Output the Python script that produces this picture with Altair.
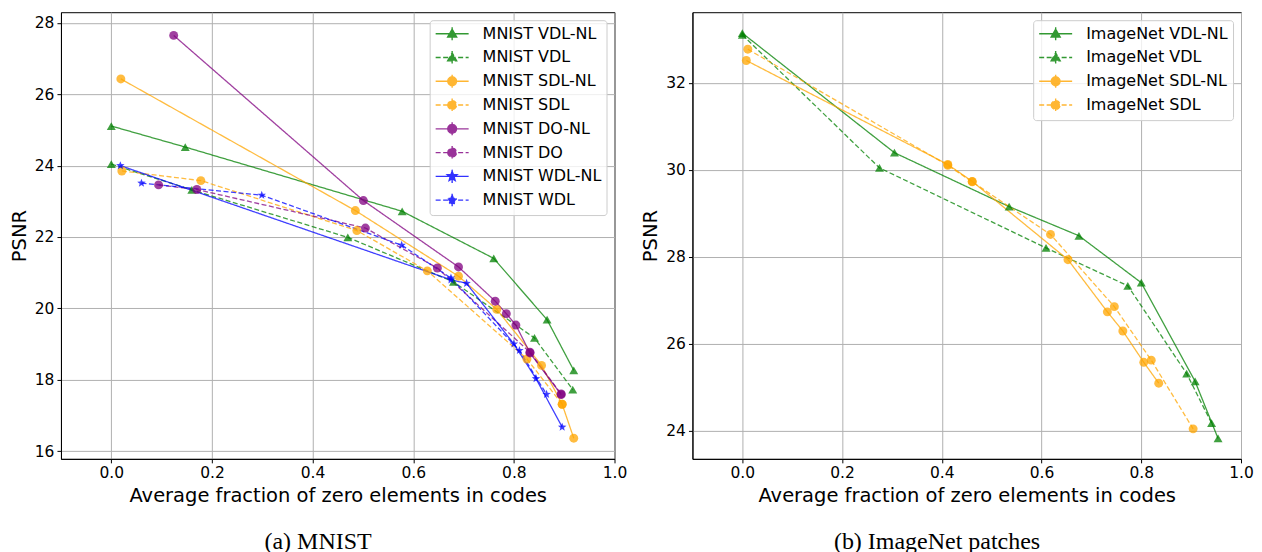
import altair as alt
import pandas as pd

# ---------------- MNIST panel data ----------------
mnist_series = ["MNIST VDL-NL", "MNIST VDL", "MNIST SDL-NL", "MNIST SDL",
                "MNIST DO-NL", "MNIST DO", "MNIST WDL-NL", "MNIST WDL"]
mnist_colors = ["green", "green", "orange", "orange", "purple", "purple", "blue", "blue"]

mnist_vdl_nl_x = [0.0, 0.147, 0.578, 0.760, 0.866, 0.919]
mnist_vdl_nl_y = [25.11, 24.52, 22.72, 21.40, 19.68, 18.26]
mnist_vdl_x = [0.0, 0.160, 0.470, 0.680, 0.841, 0.917]
mnist_vdl_y = [24.04, 23.32, 21.99, 20.74, 19.17, 17.72]
mnist_sdl_nl_x = [0.019, 0.485, 0.690, 0.766, 0.855, 0.896, 0.919]
mnist_sdl_nl_y = [26.43, 22.74, 20.90, 19.97, 18.40, 17.31, 16.36]
mnist_sdl_x = [0.021, 0.178, 0.488, 0.628, 0.826, 0.896]
mnist_sdl_y = [23.85, 23.58, 22.18, 21.05, 18.58, 17.31]
mnist_do_nl_x = [0.124, 0.501, 0.690, 0.763, 0.785, 0.804, 0.832, 0.894]
mnist_do_nl_y = [27.65, 23.02, 21.16, 20.20, 19.85, 19.53, 18.75, 17.58]
mnist_do_x = [0.094, 0.170, 0.505, 0.648, 0.832, 0.894]
mnist_do_y = [23.46, 23.33, 22.25, 21.13, 18.77, 17.60]
mnist_wdl_nl_x = [0.018, 0.675, 0.706, 0.800, 0.844, 0.896]
mnist_wdl_nl_y = [24.00, 20.80, 20.70, 19.00, 18.03, 16.67]
mnist_wdl_x = [0.060, 0.299, 0.577, 0.675, 0.811, 0.865]
mnist_wdl_y = [23.51, 23.17, 21.77, 20.85, 18.82, 17.59]

# ---------------- ImageNet panel data ----------------
inet_series = ["ImageNet VDL-NL", "ImageNet VDL", "ImageNet SDL-NL", "ImageNet SDL"]
inet_colors = ["green", "green", "orange", "orange"]

inet_vdl_nl_x = [0.0, 0.305, 0.535, 0.675, 0.800, 0.908, 0.954]
inet_vdl_nl_y = [33.14, 30.39, 29.15, 28.48, 27.40, 25.13, 23.82]
inet_vdl_x = [0.0, 0.275, 0.609, 0.773, 0.891, 0.941]
inet_vdl_y = [33.10, 30.04, 28.20, 27.33, 25.31, 24.17]
inet_sdl_nl_x = [0.008, 0.412, 0.461, 0.653, 0.732, 0.763, 0.805, 0.835]
inet_sdl_nl_y = [32.51, 30.12, 29.73, 27.93, 26.73, 26.29, 25.57, 25.09]
inet_sdl_x = [0.011, 0.412, 0.461, 0.618, 0.746, 0.820, 0.904]
inet_sdl_y = [32.77, 30.10, 29.72, 28.51, 26.85, 25.62, 24.04]

x_ticks = [0.0, 0.2, 0.4, 0.6, 0.8, 1.0]
mnist_y_ticks = [16, 18, 20, 22, 24, 26, 28]
inet_y_ticks = [24, 26, 28, 30, 32]

STAR = ("M0,-1L0.247,-0.34L0.951,-0.309L0.399,0.13L0.588,0.809L0,0.42"
        "L-0.588,0.809L-0.399,0.13L-0.951,-0.309L-0.247,-0.34Z")
# legend symbols: unit r = 7.5px (symbolSize 225); line spans 33px
LEG_LINE = "M-2.2,0L2.2,0M0,-0.87L0,0.87"
LEG_TRI = LEG_LINE + "M-0.6,0.45L0,-0.6L0.6,0.45Z"
LEG_CIRC = LEG_LINE + "M-0.58,0A0.58,0.58 0 1,0 0.58,0A0.58,0.58 0 1,0 -0.58,0Z"
LEG_STAR = LEG_LINE + ("M0,-0.68L0.168,-0.231L0.647,-0.21L0.271,0.088L0.4,0.55L0,0.286"
                       "L-0.4,0.55L-0.271,0.088L-0.647,-0.21L-0.168,-0.231Z")


def marker_of(name):
    if "VDL" in name:
        return "triangle-up", LEG_TRI
    if "WDL" in name:
        return STAR, LEG_STAR
    return "circle", LEG_CIRC


def build_df(series, xs_list, ys_list):
    rows = []
    for s, xs, ys in zip(series, xs_list, ys_list):
        for i, (x, y) in enumerate(zip(xs, ys)):
            rows.append({"series": s, "mk": s, "x": x, "y": y, "i": i})
    return pd.DataFrame(rows)


def panel(series, colors, xs_list, ys_list, y_dom, y_ticks, caption, cap_dx, width):
    df = build_df(series, xs_list, ys_list)
    dashes = [[1, 0] if s.endswith("-NL") else [5, 2.5] for s in series]
    shapes = [marker_of(s)[0] for s in series]
    shape_expr = "'" + LEG_CIRC + "'"
    fill_expr = "'black'"
    for s, c in zip(series, colors):
        shape_expr = f"datum.value === '{s}' ? '{marker_of(s)[1]}' : ({shape_expr})"
        fill_expr = f"datum.value === '{s}' ? '{c}' : ({fill_expr})"
    legend = alt.Legend(
        title=None, orient="top-right", offset=8,
        labelFont="DejaVu Sans", labelFontSize=16, labelColor="black",
        labelOffset=22, symbolOffset=9, symbolSize=225, symbolStrokeWidth=1.4,
        symbolOpacity=0.8, rowPadding=4.8, padding=5,
        fillColor="rgba(255,255,255,0.8)", strokeColor="#cccccc", cornerRadius=3,
        symbolType=alt.ExprRef(expr=shape_expr),
        symbolFillColor=alt.ExprRef(expr=fill_expr),
    )
    xenc = alt.X("x:Q", scale=alt.Scale(domain=[-0.1, 1.0], nice=False, zero=False),
                 axis=alt.Axis(values=x_ticks, format=".1f",
                               title="Average fraction of zero elements in codes"))
    yenc = alt.Y("y:Q", scale=alt.Scale(domain=y_dom, nice=False, zero=False),
                 axis=alt.Axis(values=y_ticks, format="d", title="PSNR"))
    lines = alt.Chart(df).mark_line(strokeWidth=1.3, opacity=0.75).encode(
        x=xenc, y=yenc,
        color=alt.Color("series:N", scale=alt.Scale(domain=series, range=colors), legend=legend),
        strokeDash=alt.StrokeDash("series:N", scale=alt.Scale(domain=series, range=dashes),
                                  legend=legend),
        detail="series:N",
        order="i:Q",
    )
    points = alt.Chart(df).mark_point(filled=True, size=80, opacity=0.75).encode(
        x=xenc, y=yenc,
        color=alt.Color("mk:N", scale=alt.Scale(domain=series, range=colors), legend=None),
        shape=alt.Shape("mk:N", scale=alt.Scale(domain=series, range=shapes), legend=None),
    )
    return alt.layer(lines, points).resolve_scale(
        color="independent", shape="independent", strokeDash="independent"
    ).resolve_legend(
        color="independent", shape="independent", strokeDash="independent"
    ).properties(
        width=width, height=447,
        title=alt.TitleParams(caption, orient="bottom", anchor="middle", frame="bounds",
                              font="Liberation Serif", fontSize=24, fontWeight="normal",
                              color="black", offset=25, dx=cap_dx),
    )


left = panel(mnist_series, mnist_colors,
             [mnist_vdl_nl_x, mnist_vdl_x, mnist_sdl_nl_x, mnist_sdl_x,
              mnist_do_nl_x, mnist_do_x, mnist_wdl_nl_x, mnist_wdl_x],
             [mnist_vdl_nl_y, mnist_vdl_y, mnist_sdl_nl_y, mnist_sdl_y,
              mnist_do_nl_y, mnist_do_y, mnist_wdl_nl_y, mnist_wdl_y],
             [15.78, 28.3], mnist_y_ticks, "(a) MNIST", 0, 554)
right = panel(inet_series, inet_colors,
              [inet_vdl_nl_x, inet_vdl_x, inet_sdl_nl_x, inet_sdl_x],
              [inet_vdl_nl_y, inet_vdl_y, inet_sdl_nl_y, inet_sdl_y],
              [23.35, 33.62], inet_y_ticks, "(b) ImageNet patches", -10, 549)

chart = alt.hconcat(left, right, spacing=12).properties(
    padding={"left": 0, "top": 3, "right": 0, "bottom": 5}
).configure(
    background="white"
).configure_view(stroke="black", strokeWidth=1).configure_axis(
    labelFont="DejaVu Sans", labelFontSize=15.5, labelColor="black", labelFlush=False,
    titleFont="DejaVu Sans", titleFontSize=19.5, titleFontWeight="normal", titleColor="black",
    domainColor="black", tickColor="black", tickSize=4, labelPadding=3, titlePadding=5,
    gridColor="#b0b0b0", gridWidth=1,
)

chart.save("out.html", embed_options={"renderer": "svg", "actions": False})
